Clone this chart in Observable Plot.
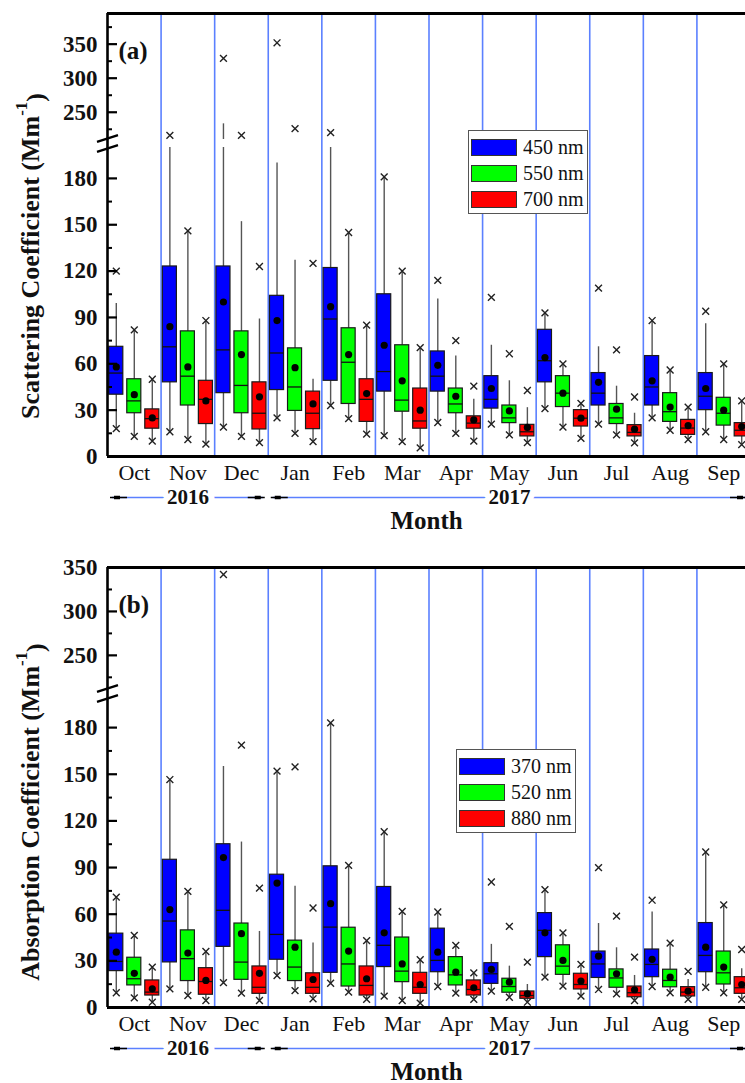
<!DOCTYPE html>
<html>
<head>
<meta charset="utf-8">
<script src="https://cdn.jsdelivr.net/npm/d3@7"></script>
<script src="https://cdn.jsdelivr.net/npm/@observablehq/plot@0.6"></script>
<style>
  body { margin: 0; background: #fff; }
  #fig { position: relative; width: 745px; height: 1083px; overflow: hidden;
         font-family: "Liberation Serif", "Times New Roman", serif; background: #fff; }
  #fig svg { position: absolute; left: 0; max-width: none; }
  .legend { position: absolute; box-sizing: border-box; width: 120px; height: 84px;
            border: 1.5px solid #555; background: #fff; padding-top: 3px; }
  .legend .row { display: flex; align-items: center; height: 26px; }
  .legend .sw { width: 46px; height: 17px; box-sizing: border-box; border: 1.3px solid #333; margin-left: 2px; }
  .legend .lab { margin-left: 6px; font-size: 20px; color: #111; }
</style>
</head>
<body>
<div id="fig"></div>
<script>
// Month order of the campaign (Oct 2016 – Sep 2017)
const months = ["Oct", "Nov", "Dec", "Jan", "Feb", "Mar", "Apr", "May", "Jun", "Jul", "Aug", "Sep"];
const yearLabels = ["2016", "2017"];
const yearFirstMonth = ["Oct", "Jan"];
const yearLastMonth = ["Dec", "Sep"];

// Box statistics per month: [low ×, Q1, median, Q3, whisker top, high ×, mean]  (Mm^-1)
const scat450 = [
  [18, 40, 54, 71, 99, 120, 58],
  [16, 48, 71, 123, 205, 216, 84],
  [19, 41, 69, 123, 233, 329, 100],
  [25, 43, 67, 104, 190, 352, 88],
  [33, 49, 89, 122, 205, 220, 97],
  [13.5, 42, 55, 105, 180, 181, 72],
  [22, 42, 52, 68, 102, 114, 59],
  [21, 31, 37, 52, 72, 103, 44],
  [31, 48, 62, 82, 93, 93, 64],
  [21, 33, 41, 54, 71, 109, 48],
  [25, 33, 45, 65, 88, 88, 49],
  [16, 30, 39, 54, 86, 94, 44]
];
const scat550 = [
  [13, 28, 36, 50, 82, 82, 40],
  [11, 33, 52, 81, 146, 146, 58],
  [13, 28, 46, 81, 152, 216, 66],
  [15, 29.5, 45, 70, 127, 226, 57.5],
  [24.5, 34, 61, 83, 145, 145, 66],
  [9.6, 29, 36.5, 72, 120, 120, 49],
  [15, 28, 34, 44, 65, 75, 39],
  [14, 21.6, 25, 33, 49, 66.5, 29.5],
  [19, 32, 41, 52, 60, 60, 41],
  [14, 21, 25, 34, 45.5, 69, 30.6],
  [17, 22.4, 29, 41, 56, 56, 32],
  [11, 20, 28, 38, 60, 60, 30]
];
const scat700 = [
  [10, 18, 24.5, 30.5, 50, 50, 25],
  [8, 21, 37, 49, 88, 88, 36],
  [9, 17.5, 28, 48, 89, 123, 38.6],
  [9.6, 17.7, 28, 42, 50, 125, 34],
  [14.5, 22.4, 37, 50, 85, 85, 40.7],
  [5.6, 18, 23, 44, 70.5, 70.5, 30],
  [10, 18, 21.6, 26, 37, 45.5, 23.7],
  [9, 13, 16, 20.5, 31.6, 42.7, 18.8],
  [11.7, 19.4, 24.8, 30, 34.4, 34.4, 24.8],
  [8.8, 13, 15.6, 20.3, 28, 38.5, 17.7],
  [11, 14, 18.4, 23.7, 32, 32, 20],
  [7.7, 13, 17, 21.6, 36, 36, 19.4]
];
const abs370 = [
  [9.5, 23.4, 29.6, 47.5, 71, 71, 35.6],
  [12, 29, 55.6, 95, 146.6, 146.6, 63],
  [16, 39, 62.5, 105, 155, 342, 96.4],
  [20.6, 30.7, 47, 85.4, 152, 152, 80],
  [15.6, 22.3, 51.7, 90.8, 183, 183, 66.8],
  [7.3, 26, 40, 77.5, 113, 113, 48],
  [13.5, 22.7, 30.3, 50.7, 61.4, 61.4, 35.6],
  [10.5, 15.2, 21.7, 28.5, 40.6, 80.7, 24.5],
  [19.5, 32.4, 49.6, 60.7, 75.8, 75.8, 48],
  [11.6, 19, 28, 36, 54, 90, 33],
  [13.5, 19.5, 27.7, 37.3, 61.4, 69, 31],
  [13, 22.7, 33.5, 54.3, 100, 100, 38.8]
];
const abs520 = [
  [6.2, 14.2, 18.5, 32, 46.4, 46.4, 22],
  [7.7, 17, 31.4, 49.6, 74.7, 74.7, 35],
  [9.2, 17.8, 29.2, 54, 106.4, 168.7, 47.5],
  [10.9, 17, 26, 43, 78, 154.7, 38.8],
  [9.9, 13.5, 28, 51.3, 91.4, 91.4, 36.3],
  [4.5, 16.3, 23.4, 45, 61.8, 61.8, 28],
  [9.2, 14.2, 21, 32.4, 40, 40, 22.7],
  [6.6, 9.5, 13.5, 18.5, 26.6, 52.2, 16.3],
  [13.7, 21, 26.6, 40, 48, 48, 30.3],
  [8.8, 12.7, 19, 24.5, 38.4, 58.8, 21.7],
  [9.5, 13, 17.4, 24.3, 41.4, 41.4, 19.5],
  [9.5, 14.8, 22.3, 36, 66, 66, 26]
];
const abs880 = [
  [3.4, 7.7, 9.9, 17.4, 26, 26, 12],
  [4.5, 8.2, 16.7, 25.3, 36, 36, 17.4],
  [4.5, 8.8, 13, 26.4, 48.9, 76.8, 22],
  [5.6, 8.8, 13, 22, 41.4, 64, 18],
  [5.2, 7.7, 14.2, 26.4, 43, 43, 18.5],
  [2.8, 8.8, 13, 22.3, 30.7, 30.7, 14.8],
  [5.2, 7.7, 11.6, 17.4, 22.3, 22.3, 12.7],
  [3.4, 5.6, 7.7, 10.3, 14.8, 29.2, 8.8],
  [7.3, 11.6, 14.8, 21.7, 27.7, 27.7, 17],
  [4.5, 6.6, 9.5, 13.5, 20.6, 32.4, 11.4],
  [5.2, 7.1, 9.9, 13.1, 18, 23.2, 10.5],
  [5.2, 8.8, 12.7, 19.5, 25, 37.3, 14.8]
];

const scatWaves = ["450 nm", "550 nm", "700 nm"];
const absWaves = ["370 nm", "520 nm", "880 nm"];
const boxColors = ["#0000ff", "#00ff00", "#ff0000"];

// Broken value axis: lower segment up to 200, upper segment from 210
const axisGap = [200, 210];
const scatMajorTicks = [0, 30, 60, 90, 120, 150, 180, 250, 300, 350];
const scatMinorTicks = [15, 45, 75, 105, 135, 165, 225, 275, 325, 375];
const absMajorTicks = [0, 30, 60, 90, 120, 150, 180, 250, 300, 350];
const absMinorTicks = [15, 45, 75, 105, 135, 165, 225, 275, 325];

const serif = "Liberation Serif, Times New Roman, serif";
const sepBlue = "#5b80ff";
const slot = 0.336;     // spacing between the three boxes of a month (month units)
const halfBox = 0.131;  // half box width (month units)

const fig = document.getElementById("fig");

// Two slanted strokes marking the axis break
const breakSymbol = {
  draw(context, size) {
    const r = Math.sqrt(size / Math.PI);
    for (const o of [-0.48 * r, 0.48 * r]) {
      context.moveTo(-r, o + 0.32 * r);
      context.lineTo(r, o - 0.32 * r);
    }
  }
};

function boxRecords(series) {
  return series.flatMap((rows, k) => rows.map((r, i) => ({
    month: i, k,
    lowX: r[0], q1: r[1], med: r[2], q3: r[3], hiW: r[4], hiX: r[5], mean: r[6],
    cx: i + 0.5 + (k - 1) * slot
  })));
}

function panel(cfg) {
  const recs = boxRecords(cfg.series);
  const upper = recs.filter(d => d.hiW > axisGap[1]);
  const crosses = recs.flatMap(d => [{cx: d.cx, v: d.lowX}, {cx: d.cx, v: d.hiX}]);
  const yTop = cfg.yDomain[cfg.yDomain.length - 1];

  const svg = Plot.plot({
    width: 745,
    height: cfg.height,
    marginLeft: 107,
    marginRight: 0,
    marginTop: cfg.yRange[3],
    marginBottom: cfg.height - cfg.yRange[0],
    style: {fontFamily: serif, background: "transparent", overflow: "hidden"},
    x: {type: "linear", domain: [0, 12], range: [107, 750]},
    y: {type: "linear", domain: cfg.yDomain, range: cfg.yRange},
    marks: [
      // month separators
      Plot.ruleX(d3.range(1, 12), {stroke: sepBlue, strokeWidth: 1.6}),
      // whiskers (split at the axis break)
      Plot.ruleX(recs, {x: "cx", y1: "lowX", y2: d => Math.min(d.hiW, axisGap[0]), stroke: "#555", strokeWidth: 1.4}),
      Plot.ruleX(upper, {x: "cx", y1: axisGap[1], y2: "hiW", stroke: "#555", strokeWidth: 1.4}),
      // interquartile boxes
      Plot.rect(recs, {
        x1: d => d.cx - halfBox, x2: d => d.cx + halfBox, y1: "q1", y2: "q3",
        fill: d => boxColors[d.k], stroke: "#1a1a1a", strokeWidth: 1.2
      }),
      // medians
      Plot.ruleY(recs, {x1: d => d.cx - halfBox, x2: d => d.cx + halfBox, y: "med", stroke: "#111", strokeWidth: 1.3}),
      // extremes
      Plot.dot(crosses, {x: "cx", y: "v", symbol: "times", r: 3.2, stroke: "#222", strokeWidth: 1.4}),
      // means
      Plot.dot(recs, {x: "cx", y: "mean", r: 3.6, fill: "#000"}),
      // frame lines
      Plot.ruleY([0, yTop], {stroke: "#000", strokeWidth: 3}),
      Plot.ruleX([0], {stroke: "#000", strokeWidth: 2.6}),
      // inward ticks
      Plot.ruleY(cfg.majorTicks, {x1: 0, x2: 0, insetRight: -10, stroke: "#000", strokeWidth: 2.2}),
      Plot.ruleY(cfg.minorTicks, {x1: 0, x2: 0, insetRight: -5, stroke: "#000", strokeWidth: 2}),
      Plot.dot([axisGap], {x: 0, y: d => (d[0] + d[1]) / 2, symbol: breakSymbol, r: 10.5, fill: "none", stroke: "#000", strokeWidth: 2.4}),
      Plot.axisY(cfg.majorTicks, {
        anchor: "left", tickSize: 0, tickPadding: 10, label: null, tickFormat: d => String(d),
        fontSize: 23, fontWeight: "bold", fontFamily: serif, fill: "#111"
      }),
      Plot.axisX(months.map((m, i) => i + 0.5), {
        anchor: "bottom", tickSize: 0, tickPadding: 8, label: null,
        tickFormat: d => months[Math.floor(d)], fontSize: 22, fontFamily: serif, fill: "#111"
      }),
      Plot.text([cfg.tag], {
        frameAnchor: "top-left", textAnchor: "start", lineAnchor: "middle", dx: 11, dy: 37,
        fontSize: 25, fontWeight: "bold", fontFamily: serif, fill: "#111"
      })
    ]
  });
  svg.style.top = cfg.top + "px";

  // rotated axis title with superscript unit
  const t = d3.select(svg).append("text")
    .attr("transform", `translate(30,${cfg.titleY}) rotate(-90)`)
    .attr("text-anchor", "middle")
    .attr("dominant-baseline", "central")
    .attr("font-family", serif)
    .attr("font-weight", "bold")
    .attr("font-size", 26)
    .attr("fill", "#111");
  t.append("tspan").text(cfg.title + " (Mm");
  t.append("tspan").attr("dy", "-0.55em").attr("font-size", "65%").text("-1");
  t.append("tspan").attr("dy", "0.55em").text(")");
  fig.appendChild(svg);

  // year row and axis title under the month labels
  const spans = yearLabels.map((y, j) => ({
    year: y, from: months.indexOf(yearFirstMonth[j]), to: months.indexOf(yearLastMonth[j]) + 1
  }));
  const rowY = 11, titleRowY = 34;
  const row = Plot.plot({
    width: 745, height: 50, marginLeft: 107, marginRight: 0, marginTop: 0, marginBottom: 0,
    style: {fontFamily: serif, background: "transparent"},
    x: {type: "linear", domain: [0, 12], range: [107, 750], axis: null},
    y: {type: "identity", axis: null},
    marks: [
      Plot.ruleY(spans, {x1: "from", x2: "to", y: rowY, insetLeft: 5, insetRight: 5, stroke: sepBlue, strokeWidth: 1.6}),
      Plot.ruleY(spans, {x1: "from", x2: "from", y: rowY, insetLeft: 3, insetRight: -20, stroke: "#000", strokeWidth: 1.5}),
      Plot.ruleY(spans, {x1: "from", x2: "from", y: rowY, insetLeft: 7, insetRight: -13, stroke: "#000", strokeWidth: 3.5}),
      Plot.ruleY(spans, {x1: "to", x2: "to", y: rowY, insetLeft: -20, insetRight: 3, stroke: "#000", strokeWidth: 1.5}),
      Plot.ruleY(spans, {x1: "to", x2: "to", y: rowY, insetLeft: -13, insetRight: 7, stroke: "#000", strokeWidth: 3.5}),
      Plot.text(spans, {
        x: d => (d.from + d.to) / 2, y: rowY, text: "year", fontSize: 21, fontWeight: "bold",
        fontFamily: serif, fill: "#111", stroke: "#fff", strokeWidth: 12
      }),
      Plot.text(["Month"], {y: titleRowY, frameAnchor: "middle", fontSize: 25, fontWeight: "bold", fontFamily: serif, fill: "#111"})
    ]
  });
  row.style.top = (cfg.top + cfg.yRange[0] + 30) + "px";
  fig.appendChild(row);

  // legend box inside the plot area
  const lg = document.createElement("div");
  lg.className = "legend";
  lg.style.left = cfg.legendLeft + "px";
  lg.style.top = cfg.legendTop + "px";
  cfg.waves.forEach((w, k) => {
    const r = document.createElement("div");
    r.className = "row";
    const sw = document.createElement("div");
    sw.className = "sw";
    sw.style.background = boxColors[k];
    const lab = document.createElement("span");
    lab.className = "lab";
    lab.textContent = w;
    r.appendChild(sw);
    r.appendChild(lab);
    lg.appendChild(r);
  });
  fig.appendChild(lg);
}

panel({
  top: 0, height: 500,
  yDomain: [0, axisGap[0], axisGap[1], 395], yRange: [456, 147, 139, 13],
  series: [scat450, scat550, scat700], waves: scatWaves,
  majorTicks: scatMajorTicks, minorTicks: scatMinorTicks,
  tag: "(a)", title: "Scattering Coefficient", titleY: 256,
  legendLeft: 468, legendTop: 130
});

panel({
  top: 540, height: 510,
  yDomain: [0, axisGap[0], axisGap[1], 350], yRange: [467, 156, 150, 27],
  series: [abs370, abs520, abs880], waves: absWaves,
  majorTicks: absMajorTicks, minorTicks: absMinorTicks,
  tag: "(b)", title: "Absorption Coefficient", titleY: 272,
  legendLeft: 456, legendTop: 749
});
</script>
</body>
</html>
